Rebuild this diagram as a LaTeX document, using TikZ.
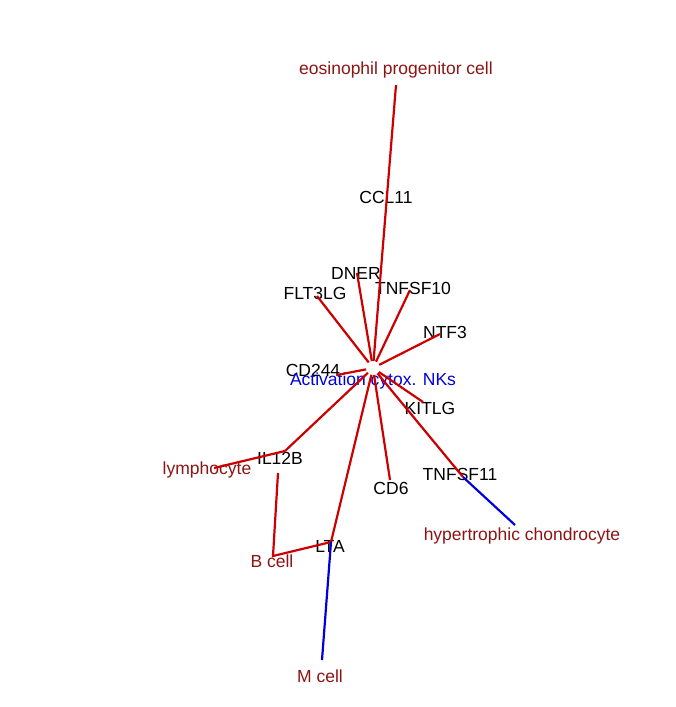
\documentclass[tikz,border=0pt]{standalone}
\usepackage{fontspec}
\setmainfont{Liberation Sans}
\definecolor{edgered}{RGB}{204,0,0}
\definecolor{cellred}{RGB}{140,20,20}
\definecolor{hubblue}{RGB}{0,0,220}
\begin{document}
\begin{tikzpicture}[x=1pt,y=-1pt,
  gene/.style={text=black, font=\fontsize{17.5}{20}\selectfont, inner sep=0pt},
  cell/.style={text=cellred, font=\fontsize{17.5}{20}\selectfont, inner sep=0pt},
  hubtext/.style={text=hubblue, font=\fontsize{17.5}{20}\selectfont, inner sep=0pt},
  redline/.style={edgered, line width=2.2pt},
  blueline/.style={hubblue, line width=2.2pt}]
		
		\useasboundingbox (0,0) rectangle (676,707);
		
		% Hub and end points
		\coordinate (hub) at (373, 368);
		\coordinate (pCCL) at (396, 85);
		\coordinate (pDNER) at (357, 273);
		\coordinate (pTNFSFten) at (410, 290);
		\coordinate (pFLT) at (317, 296);
		\coordinate (pNTF) at (440, 334);
		\coordinate (pCD) at (337, 375);
		\coordinate (pKIT) at (423, 402);
		\coordinate (pIL) at (285, 451);
		\coordinate (pILb) at (278, 473);
		\coordinate (pLym) at (214, 468);
		\coordinate (pCDsix) at (390, 480);
		\coordinate (pTNFSFel) at (463, 477);
		\coordinate (pChon) at (515, 525);
		\coordinate (pLTA) at (331, 542);
		\coordinate (pB) at (273, 556);
		\coordinate (pM) at (322, 660);
		
		% Labels
		\node[cell] (eos) at (396, 70) {eosinophil progenitor cell};
		\node[gene] (ccl) at (386, 197) {CCL11};
		\node[gene] (dner) at (356, 273) {DNER};
		\node[gene] (tnfsften) at (413, 288) {TNFSF10};
		\node[gene] (flt) at (315, 293) {FLT3LG};
		\node[gene] (ntf) at (445, 332) {NTF3};
		\node[gene] (cdtwo) at (313, 370) {CD244};
		\node[hubtext] (act) at (373, 381) {Activation cytox. NKs};
		\node[gene] (kit) at (430, 408) {KITLG};
		\node[gene] (il) at (280, 458) {IL12B};
		\node[cell] (lym) at (207, 470) {lymphocyte};
		\node[gene] (cdsix) at (391, 488) {CD6};
		\node[gene] (tnfsfel) at (460, 474) {TNFSF11};
		\node[cell] (chon) at (522, 536) {hypertrophic chondrocyte};
		\node[gene] (lta) at (330, 546) {LTA};
		\node[cell] (bcell) at (272, 561) {B cell};
		\node[cell] (mcell) at (320, 676) {M cell};
		
		% Connect
		\foreach \p in {pCCL,pDNER,pTNFSFten,pFLT,pNTF,pCD,pKIT,pIL,pCDsix,pTNFSFel,pLTA}
			\draw[redline, shorten <=7pt] (hub) -- (\p);
		\draw[redline] (pIL) -- (pLym);
		\draw[redline] (pILb) -- (pB) -- (pLTA);
		\draw[blueline] (pTNFSFel) -- (pChon);
		\draw[blueline] (pLTA) -- (pM);
		
	\end{tikzpicture}
\end{document}
